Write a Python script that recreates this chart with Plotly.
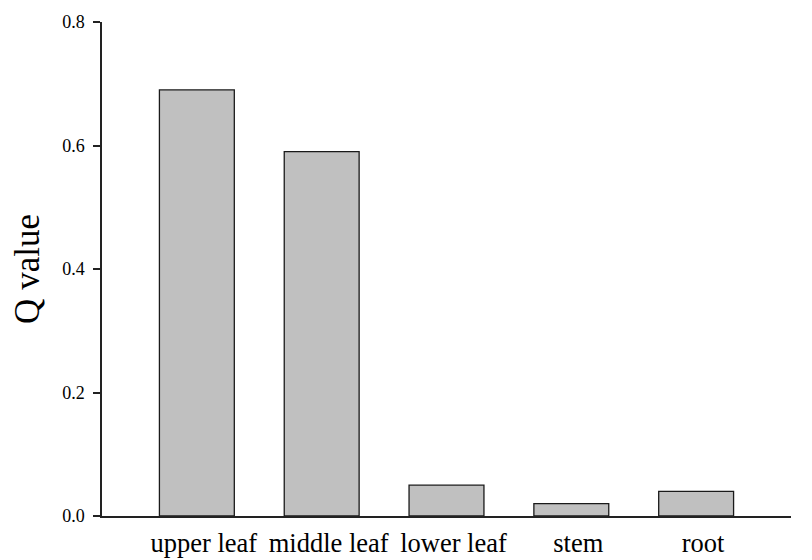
import plotly.graph_objects as go

categories = ["upper leaf", "middle leaf", "lower leaf", "stem", "root"]
q_values = [0.69, 0.59, 0.05, 0.02, 0.04]
y_ticks = [0.0, 0.2, 0.4, 0.6, 0.8]
y_tick_labels = ["0.0", "0.2", "0.4", "0.6", "0.8"]

fig = go.Figure()
fig.add_trace(go.Bar(
    x=categories, y=q_values, width=0.6,
    marker=dict(color="#c0c0c0", line=dict(color="#1a1a1a", width=1.3)),
))

font_family = "Liberation Serif"
fig.update_layout(
    template="none",
    width=804, height=552,
    margin=dict(l=94, r=21, t=14, b=44, autoexpand=False),
    plot_bgcolor="white", paper_bgcolor="white",
    showlegend=False,
    font=dict(family=font_family, color="black", size=18),
)
fig.update_xaxes(
    range=[-0.76, 4.76], showline=True, linecolor="#222", linewidth=1.5,
    ticks="", showgrid=False, zeroline=False,
    tickfont=dict(size=26.5, family=font_family, color="black"),
    ticklabelstandoff=2, ticklabelshift=7,
)
fig.update_yaxes(
    range=[0, 0.8], showline=True, linecolor="#222", linewidth=1.5,
    ticks="outside", ticklen=7, tickwidth=1.5, tickcolor="#222",
    tickvals=y_ticks, ticktext=y_tick_labels,
    showgrid=False, zeroline=False,
    tickfont=dict(size=18, family=font_family, color="black"),
    ticklabelstandoff=5,
    title=dict(text="Q value", font=dict(size=35, family=font_family), standoff=16),
)

fig.write_html("out.html")
